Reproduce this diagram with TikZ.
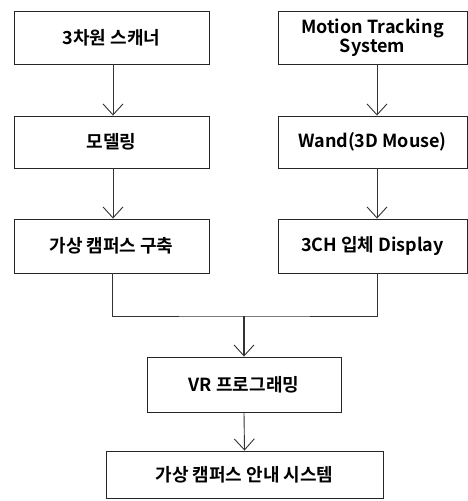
\documentclass[tikz,border=0pt]{standalone}
\usepackage{fontspec}
\setmainfont{Noto Sans CJK KR}[BoldFont={* Bold}]
\usetikzlibrary{arrows.meta}
\tikzset{
  box/.style={draw=black!85, line width=0.9pt, inner sep=0pt, font=\bfseries\fontsize{18}{20}\selectfont, align=center},
  link/.style={draw=black!80, line width=0.9pt, -{Straight Barb[length=11pt, width=20pt, line width=0.9pt]}},
}
\begin{document}
\begin{tikzpicture}[x=1pt, y=-1pt]
\useasboundingbox (0,0) rectangle (468,501);
% left column
\node[box, minimum width=195pt, minimum height=53pt] (scan) at (111.5,37.5) {3차원 스캐너};
\node[box, minimum width=195pt, minimum height=52pt] (model) at (111.5,142) {모델링};
\node[box, minimum width=195pt, minimum height=54pt] (campus) at (111.5,246) {가상 캠퍼스 구축};
% right column
\node[box, minimum width=189pt, minimum height=53pt] (mts) at (372.5,37.5) {Motion Tracking\\[-1pt]System};
\node[box, minimum width=189pt, minimum height=52pt] (wand) at (372.5,142) {Wand(3D Mouse)};
\node[box, minimum width=189pt, minimum height=54pt] (disp) at (372.5,246) {3CH 입체 Display};
% bottom
\node[box, minimum width=194pt, minimum height=55pt] (vr) at (244,384.5) {VR 프로그래밍};
\node[box, minimum width=277pt, minimum height=47pt] (guide) at (244.5,474.5) {가상 캠퍼스 안내 시스템};
% junction point
\coordinate (j) at (244,316);
% connectors
\draw[link] (scan.south -| 113,0) -- (model.north -| 113,0);
\draw[link] (model.south -| 113,0) -- (campus.north -| 113,0);
\draw[link] (mts.south -| 377,0) -- (wand.north -| 377,0);
\draw[link] (wand.south -| 377,0) -- (disp.north -| 377,0);
\draw[draw=black!80, line width=0.9pt] (campus.south -| 112,0) |- (j) -| (disp.south -| 377,0);
\draw[link, line width=1.2pt] (j) -- (vr.north);
\draw[link] (vr.south) -- (guide.north);
\end{tikzpicture}
\end{document}
